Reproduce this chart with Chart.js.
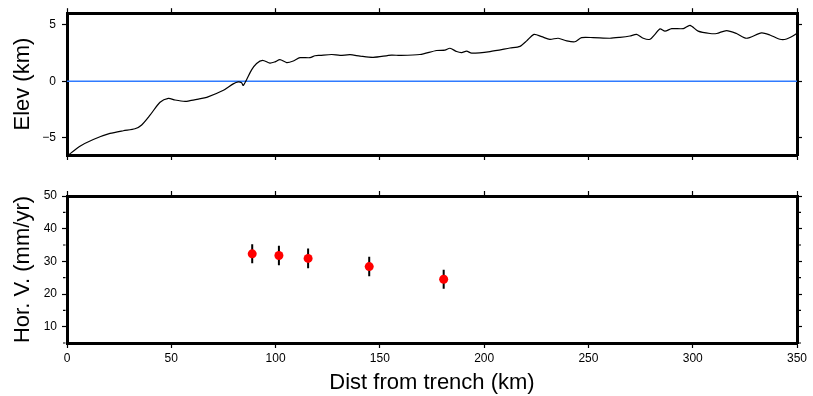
<!DOCTYPE html>
<html>
<head>
<meta charset="utf-8">
<script src="https://cdn.jsdelivr.net/npm/chart.js@4.4.1/dist/chart.umd.min.js"></script>
<style>
  html, body { margin: 0; padding: 0; background: #fff; }
  #wrap { position: relative; width: 813px; height: 396px; }
  canvas { position: absolute; left: 0; }
  #elevChart { top: 0; }
  #velChart { top: 176px; }
</style>
</head>
<body>
<div id="wrap">
  <canvas id="elevChart" width="813" height="176"></canvas>
  <canvas id="velChart" width="813" height="220"></canvas>
</div>
<script>
// topography along the profile (km from trench, km elevation)
const elevDist = [0, 6, 12.6, 20.6, 27, 32.6, 35.8, 39.8, 44.6, 48.6, 51.8, 56.6, 59, 63, 67, 75, 79.7, 82.1, 83.7, 84.5,
  86.1, 88.5, 90.9, 93.8, 97.3, 99.7, 102.1, 105.3, 108.5, 111.7, 116.5, 118.9, 121.3, 126.9, 130.9, 135.7, 140.5,
  146.8, 155.6, 159.6, 169.2, 177.2, 181.2, 183.6, 186.8, 189.2, 191.6, 194, 202.8, 212.4, 217.2, 220.4, 223.9, 227.6,
  231.5, 235.5, 239.6, 243.5, 246.7, 252.3, 260.3, 265.1, 269.9, 273.1, 276.3, 279.5, 281.9, 284.3, 286.7, 289.9,
  295.5, 298.7, 302.6, 308.3, 311.5, 316.2, 321, 325.8, 333, 337, 341.8, 345, 350];
const elevKm = [-6.6, -5.75, -5.13, -4.6, -4.36, -4.19, -3.85, -2.99, -1.85, -1.51, -1.65, -1.77, -1.71, -1.57, -1.42, -0.8, -0.23, -0.06, -0.14, -0.37,
  0.14, 1.0, 1.57, 1.85, 1.6, 1.71, 1.91, 1.65, 1.79, 2.08, 2.08, 2.25, 2.28, 2.36, 2.28, 2.34, 2.22,
  2.11, 2.31, 2.28, 2.36, 2.71, 2.74, 2.91, 2.62, 2.53, 2.65, 2.48, 2.62, 2.93, 3.08, 3.56, 4.13, 3.93,
  3.7, 3.79, 3.56, 3.48, 3.85, 3.85, 3.79, 3.87, 3.99, 4.13, 3.79, 3.7, 4.13, 4.62, 4.42, 4.64,
  4.64, 4.93, 4.42, 4.21, 4.21, 4.47, 4.21, 3.79, 4.27, 4.08, 3.7, 3.73, 4.2];
const seaDist = [0, 350];
const seaLevel = [0, 0];

// GPS horizontal velocities
const gpsDist = [88.8, 101.6, 115.6, 144.9, 180.6];
const gpsVel = [32.3, 31.8, 30.9, 28.4, 24.5];
const gpsErr = [2.9, 3.0, 3.0, 3.0, 2.9];

const distTicks = [0, 50, 100, 150, 200, 250, 300, 350];
const elevTicks = [-5, 0, 5];
const velTicks = [10, 20, 30, 40, 50];
const velMinorTicks = [5, 15, 25, 35, 45];

const FONT = '"Liberation Sans", Arial, Helvetica, sans-serif';

function frameAxis(position, min, max, tickValues, size, labels) {
  const vertical = position === 'left' || position === 'right';
  const cfg = {
    type: 'linear',
    position: position,
    min: min,
    max: max,
    afterBuildTicks: s => { s.ticks = tickValues.map(v => ({ value: v })); },
    afterFit: s => { if (vertical) s.width = size; else s.height = size; },
    border: { display: true, color: '#000', width: 3 },
    grid: { drawOnChartArea: false, drawTicks: true, tickLength: 5, tickColor: '#000', tickWidth: 1.2 },
    ticks: { display: false }
  };
  if (labels) {
    cfg.ticks = {
      display: true,
      color: '#000',
      padding: labels.pad,
      font: { family: FONT, size: 12 },
      callback: v => String(v).replace('-', '\u2212')
    };
    cfg.title = {
      display: true,
      text: labels.title,
      color: '#000',
      font: { family: FONT, size: 22 },
      padding: labels.titlePad
    };
  }
  return cfg;
}

const minorTicks = {
  id: 'minorTicks',
  afterDraw(chart) {
    const ctx = chart.ctx;
    const yl = chart.scales.y, yr = chart.scales.y2;
    ctx.save();
    ctx.strokeStyle = '#000';
    ctx.lineWidth = 1.2;
    ctx.beginPath();
    velMinorTicks.forEach(v => {
      const py = yl.getPixelForValue(v);
      ctx.moveTo(yl.right - 1.5, py); ctx.lineTo(yl.right - 4, py);
      ctx.moveTo(yr.left + 1.5, py); ctx.lineTo(yr.left + 4, py);
    });
    ctx.stroke();
    ctx.restore();
  }
};

const common = {
  responsive: false,
  animation: false,
  events: [],
  layout: { padding: 0 },
  plugins: { legend: { display: false }, tooltip: { enabled: false } }
};

new Chart(document.getElementById('elevChart'), {
  type: 'line',
  data: {
    datasets: [{
      data: elevDist.map((d, i) => ({ x: d, y: elevKm[i] })),
      borderColor: '#000',
      borderWidth: 1.2,
      pointRadius: 0,
      tension: 0.25,
      xAxisID: 'x', yAxisID: 'y'
    }, {
      data: seaDist.map((d, i) => ({ x: d, y: seaLevel[i] })),
      borderColor: '#2f7bff',
      borderWidth: 1.3,
      pointRadius: 0,
      xAxisID: 'x', yAxisID: 'y'
    }]
  },
  options: Object.assign({}, common, {
    scales: {
      x: frameAxis('bottom', 0, 350, distTicks, 21),
      x2: frameAxis('top', 0, 350, distTicks, 10),
      y: frameAxis('left', -6.5, 6, elevTicks, 67, { title: 'Elev (km)', pad: 6, titlePad: { top: 10, bottom: 0 } }),
      y2: frameAxis('right', -6.5, 6, elevTicks, 16)
    }
  })
});

const errBars = [];
gpsDist.forEach((d, i) => {
  errBars.push({ x: d, y: gpsVel[i] - gpsErr[i] }, { x: d, y: gpsVel[i] + gpsErr[i] }, { x: d, y: null });
});

new Chart(document.getElementById('velChart'), {
  type: 'scatter',
  data: {
    datasets: [{
      data: gpsDist.map((d, i) => ({ x: d, y: gpsVel[i] })),
      backgroundColor: '#ff0000',
      borderWidth: 0,
      pointRadius: 4.5,
      xAxisID: 'x', yAxisID: 'y'
    }, {
      type: 'line',
      data: errBars,
      borderColor: '#000',
      borderWidth: 2,
      pointRadius: 0,
      spanGaps: false,
      xAxisID: 'x', yAxisID: 'y'
    }]
  },
  options: Object.assign({}, common, {
    scales: {
      x: frameAxis('bottom', 0, 350, distTicks, 53, { title: 'Dist from trench (km)', pad: 3, titlePad: { top: 0, bottom: 0 } }),
      x2: frameAxis('top', 0, 350, distTicks, 20),
      y: frameAxis('left', 5, 50, velTicks, 67, { title: 'Hor. V. (mm/yr)', pad: 5, titlePad: { top: 10, bottom: 0 } }),
      y2: frameAxis('right', 5, 50, velTicks, 16)
    }
  }),
  plugins: [minorTicks]
});
</script>
</body>
</html>
